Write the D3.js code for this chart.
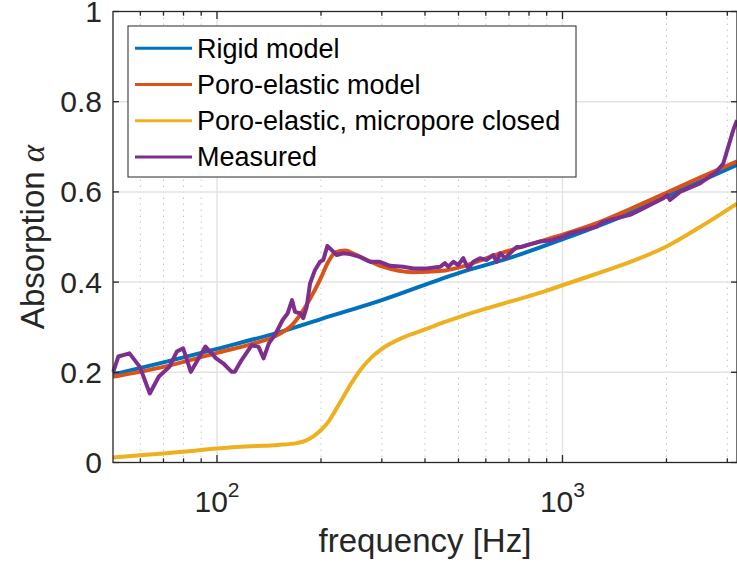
<!DOCTYPE html>
<html>
<head>
<meta charset="utf-8">
<script src="https://cdn.jsdelivr.net/npm/d3@7"></script>
<style>
  body { margin: 0; background: #fff; }
  svg { display: block; font-family: "Liberation Sans", Arial, sans-serif; }
</style>
</head>
<body>
<div class="chart"></div>
<script>
// model curves, frequency in Hz and absorption coefficient
var rigidFreq = [50, 70, 100, 150, 200, 300, 500, 700, 1000, 1500, 2000, 2500, 3200];
var rigidAlpha = [0.195, 0.222, 0.252, 0.288, 0.318, 0.36, 0.42, 0.453, 0.495, 0.547, 0.59, 0.623, 0.66];

var poroFreq = [50, 70, 100, 125, 150, 165, 175, 190, 200, 210, 220, 235, 250, 300, 370, 450, 500, 650, 800, 1000, 1250, 1570, 2000, 2500, 3200];
var poroAlpha = [0.19, 0.212, 0.243, 0.262, 0.283, 0.305, 0.33, 0.376, 0.41, 0.445, 0.466, 0.47, 0.462, 0.435, 0.422, 0.425, 0.432, 0.462, 0.483, 0.505, 0.53, 0.562, 0.598, 0.632, 0.668];

var closedFreq = [50, 60, 70, 80, 100, 125, 150, 170, 180, 190, 200, 210, 220, 230, 245, 260, 280, 300, 345, 400, 450, 500, 600, 700, 800, 900, 1000, 1250, 1600, 2000, 2500, 3200];
var closedAlpha = [0.011, 0.016, 0.02, 0.024, 0.031, 0.036, 0.039, 0.043, 0.048, 0.058, 0.072, 0.09, 0.115, 0.14, 0.176, 0.205, 0.233, 0.252, 0.277, 0.295, 0.31, 0.322, 0.341, 0.356, 0.369, 0.381, 0.393, 0.418, 0.447, 0.479, 0.522, 0.574];

var measFreq = [50.1, 51.8, 55.8, 59.8, 63.9, 67.8, 72.8, 76.5, 79.8, 84, 92.6, 99.4, 104.2, 110.3, 112.6, 117.8, 126.1, 131.8, 136.4, 141.3,
  147.9, 154.9, 160.2, 164.9, 168.2, 173.9, 177.7, 181.8, 185.9, 192.2, 198.7, 203.1, 208.6, 214.8, 222, 232, 242.6, 259, 277, 296,
  317, 346, 370, 405, 442, 457, 467, 483, 499, 516, 534, 552, 577, 603, 630, 645, 660, 682, 705, 737,
  762, 788, 823, 861, 920, 1005, 1051, 1256, 1312, 1568, 1640, 1958, 2010, 2047, 2189, 2500, 2794, 2920, 3019, 3121, 3200];
var measAlpha = [0.201, 0.235, 0.242, 0.212, 0.153, 0.19, 0.212, 0.246, 0.253, 0.201, 0.257, 0.231, 0.22, 0.201, 0.201, 0.227, 0.26, 0.257, 0.231, 0.264,
  0.286, 0.316, 0.331, 0.36, 0.334, 0.331, 0.32, 0.345, 0.397, 0.427, 0.445, 0.449, 0.48, 0.471, 0.46, 0.464, 0.462, 0.456, 0.445, 0.445,
  0.436, 0.434, 0.43, 0.43, 0.434, 0.442, 0.434, 0.445, 0.438, 0.453, 0.43, 0.445, 0.453, 0.449, 0.46, 0.445, 0.464, 0.453, 0.464, 0.478,
  0.478, 0.482, 0.486, 0.49, 0.492, 0.501, 0.508, 0.523, 0.534, 0.549, 0.556, 0.586, 0.593, 0.582, 0.6, 0.619, 0.645, 0.663, 0.7, 0.737, 0.759];

var seriesNames = ["Rigid model", "Poro-elastic model", "Poro-elastic, micropore closed", "Measured"];
var seriesColors = ["#0072BD", "#D95319", "#EDB120", "#7E2F8E"];

var xMajor = [100, 1000];
var xMajorLabels = ["2", "3"]; // exponents of 10
var xMinor = [60, 70, 80, 90, 200, 300, 400, 500, 600, 700, 800, 900, 2000, 3000];
var yTicks = [0, 0.2, 0.4, 0.6, 0.8, 1];
var yTickLabels = ["0", "0.2", "0.4", "0.6", "0.8", "1"];

function drawChart() {
  var width = 737, height = 568;
  var pl = 113, pr = 737, pt = 11.5, pb = 462.5;
  var axisColor = "#262626";

  var svg = d3.select(".chart").append("svg")
      .attr("width", width)
      .attr("height", height);

  var x = d3.scaleLog().domain([50, 3200]).range([pl, pr]);
  var y = d3.scaleLinear().domain([0, 1]).range([pb, pt]);

  function zip(f, a) {
    return f.map(function(d, i) { return [d, a[i]]; });
  }

  // grid
  var grid = svg.append("g");
  grid.selectAll(".minor")
    .data(xMinor).enter().append("line")
      .attr("x1", d => x(d)).attr("x2", d => x(d))
      .attr("y1", pt).attr("y2", pb)
      .attr("stroke", "#c4c4c4").attr("stroke-width", 1)
      .attr("stroke-dasharray", "1.5,4.5");
  grid.selectAll(".major")
    .data(xMajor).enter().append("line")
      .attr("x1", d => x(d)).attr("x2", d => x(d))
      .attr("y1", pt).attr("y2", pb)
      .attr("stroke", "#e3e3e3").attr("stroke-width", 1.5);
  grid.selectAll(".ygrid")
    .data(yTicks.slice(1, -1)).enter().append("line")
      .attr("x1", pl).attr("x2", pr)
      .attr("y1", d => y(d)).attr("y2", d => y(d))
      .attr("stroke", "#e3e3e3").attr("stroke-width", 1.5);

  // curves
  var smooth = d3.line().x(d => x(d[0])).y(d => y(d[1])).curve(d3.curveMonotoneX);
  var plain = d3.line().x(d => x(d[0])).y(d => y(d[1]));

  var curves = [
    { pts: zip(rigidFreq, rigidAlpha), line: smooth },
    { pts: zip(poroFreq, poroAlpha), line: smooth },
    { pts: zip(closedFreq, closedAlpha), line: smooth },
    { pts: zip(measFreq, measAlpha), line: plain }
  ];

  var plot = svg.append("g");
  curves.forEach(function(c, i) {
    plot.append("path")
      .attr("d", c.line(c.pts))
      .attr("fill", "none")
      .attr("stroke", seriesColors[i])
      .attr("stroke-width", 4)
      .attr("stroke-linejoin", "round");
  });

  // axes box and ticks
  var ax = svg.append("g").attr("stroke", axisColor).attr("stroke-width", 1.3);
  ax.append("rect")
    .attr("x", pl).attr("y", pt)
    .attr("width", pr - pl).attr("height", pb - pt)
    .attr("fill", "none");

  xMajor.forEach(function(d) {
    ax.append("line").attr("x1", x(d)).attr("x2", x(d)).attr("y1", pb).attr("y2", pb - 7.5);
    ax.append("line").attr("x1", x(d)).attr("x2", x(d)).attr("y1", pt).attr("y2", pt + 7.5);
  });
  xMinor.forEach(function(d) {
    ax.append("line").attr("x1", x(d)).attr("x2", x(d)).attr("y1", pb).attr("y2", pb - 4.2);
    ax.append("line").attr("x1", x(d)).attr("x2", x(d)).attr("y1", pt).attr("y2", pt + 4.2);
  });
  yTicks.forEach(function(d) {
    ax.append("line").attr("x1", pl).attr("x2", pl + 6).attr("y1", y(d)).attr("y2", y(d));
    ax.append("line").attr("x1", pr).attr("x2", pr - 6).attr("y1", y(d)).attr("y2", y(d));
  });

  // tick labels
  svg.selectAll(".ylab")
    .data(yTicks).enter().append("text")
      .attr("x", pl - 11)
      .attr("y", d => y(d))
      .attr("dy", "0.35em")
      .attr("text-anchor", "end")
      .attr("font-size", 30)
      .attr("fill", axisColor)
      .text((d, i) => yTickLabels[i]);

  xMajor.forEach(function(d, i) {
    var t = svg.append("text")
      .attr("x", x(d))
      .attr("y", 512)
      .attr("text-anchor", "middle")
      .attr("font-size", 30)
      .attr("fill", axisColor);
    t.append("tspan").text("10");
    t.append("tspan").attr("dy", -15).attr("font-size", 21).text(xMajorLabels[i]);
  });

  // axis labels
  svg.append("text")
    .attr("x", (pl + pr) / 2)
    .attr("y", 552)
    .attr("text-anchor", "middle")
    .attr("font-size", 33)
    .attr("fill", axisColor)
    .text("frequency [Hz]");

  var yl = svg.append("text")
    .attr("transform", "translate(44," + ((pt + pb) / 2) + ") rotate(-90)")
    .attr("text-anchor", "middle")
    .attr("font-size", 33)
    .attr("fill", axisColor);
  yl.append("tspan").text("Absorption ");
  yl.append("tspan")
    .attr("font-family", "'Liberation Serif', 'DejaVu Serif', serif")
    .attr("font-style", "italic")
    .text("\u03b1");

  // legend
  var lg = svg.append("g");
  lg.append("rect")
    .attr("x", 128).attr("y", 26)
    .attr("width", 448).attr("height", 151)
    .attr("fill", "#fff")
    .attr("stroke", axisColor).attr("stroke-width", 1);

  seriesNames.forEach(function(name, i) {
    var cy = 48.3 + i * 36.2;
    lg.append("line")
      .attr("x1", 135).attr("x2", 192)
      .attr("y1", cy).attr("y2", cy)
      .attr("stroke", seriesColors[i]).attr("stroke-width", 3);
    lg.append("text")
      .attr("x", 197).attr("y", cy)
      .attr("dy", "0.35em")
      .attr("font-size", 27)
      .attr("fill", "#000")
      .text(name);
  });
}
drawChart();
</script>
</body>
</html>
